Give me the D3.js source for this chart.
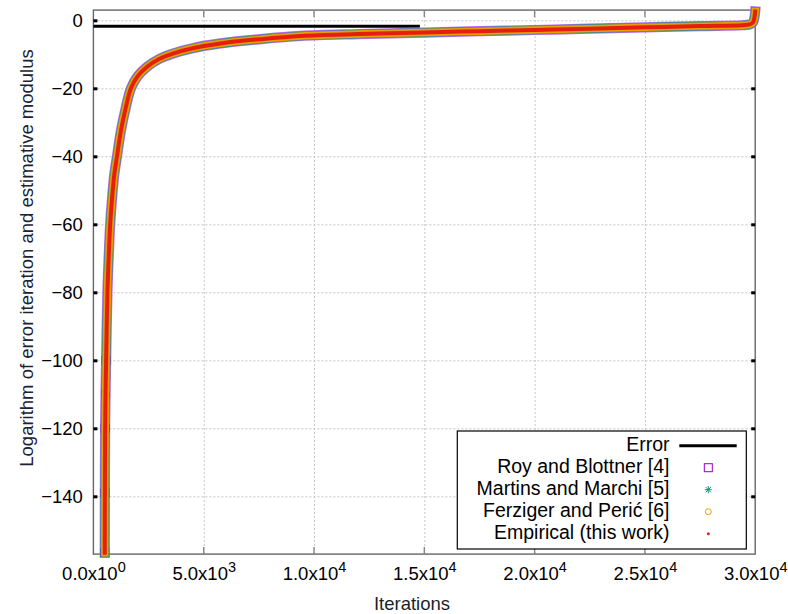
<!DOCTYPE html>
<html>
<head>
<meta charset="utf-8">
<script src="https://cdn.jsdelivr.net/npm/d3@7"></script>
<style>
  body { margin: 0; background: #fff; }
  svg { font-family: 'Liberation Sans', Arial, sans-serif; }
</style>
</head>
<body>
<div id="chart"></div>
<script>
// values
const iterations = [515, 520, 532, 550, 577, 636, 700, 760, 850, 950, 1070, 1250, 1450, 1700, 2000,
  2450, 3000, 3640, 4500, 5760, 7500, 9400, 12000, 15000, 17500, 20000, 22500, 25000, 27500,
  29400, 29750, 29900, 29970, 30000];
// the four estimators lie on top of each other at this scale
const estimateLog = [-156.6, -139, -120, -110, -100, -80, -68.5, -60, -52, -45.2, -40, -32.4, -26.2, -20, -16.5,
  -13.6, -11.3, -9.7, -8.2, -6.8, -5.6, -4.6, -4.05, -3.6, -3.2, -2.85, -2.45, -2.06, -1.7,
  -1.45, -1.2, -0.6, 1.0, 2.6];
const errorIterations = [0, 14800];
const errorLog = [-1.78, -1.78];

const xTicks = [0, 5000, 10000, 15000, 20000, 25000, 30000];
const yTicks = [0, -20, -40, -60, -80, -100, -120, -140];

const series = [
  {name: 'Roy and Blottner [4]', values: estimateLog, color: '#9400d3', band: '#b468e6', width: 10.2, marker: 'square'},
  {name: 'Martins and Marchi [5]', values: estimateLog, color: '#009e73', band: '#2b8f86', width: 8.6, marker: 'star'},
  {name: 'Ferziger and Perić [6]', values: estimateLog, color: '#e69f00', band: '#e69f00', width: 7.4, marker: 'circle'},
  {name: 'Empirical (this work)', values: estimateLog, color: '#e51e10', band: '#e51e10', width: 4.0, marker: 'dot'}
];

const W = 788, H = 614;
const plot = {left: 93.4, right: 755.2, top: 10.1, bottom: 554.1};

const svg = d3.select('#chart').append('svg')
  .attr('width', W)
  .attr('height', H);

const x = d3.scaleLinear().domain([0, 30000]).range([plot.left, plot.right]);
const y = d3.scaleLinear().domain([-157, 3]).range([plot.bottom, plot.top]);

// grid
svg.append('g')
  .attr('transform', `translate(0, ${plot.bottom})`)
  .call(d3.axisBottom(x).tickValues(xTicks.slice(1, -1)).tickSize(-(plot.bottom - plot.top)).tickFormat(''))
  .call(g => g.select('.domain').remove())
  .call(g => g.selectAll('line').attr('stroke', '#c4c4c4').attr('stroke-dasharray', '2,2'));
svg.append('g')
  .attr('transform', `translate(${plot.left}, 0)`)
  .call(d3.axisLeft(y).tickValues(yTicks).tickSize(-(plot.right - plot.left)).tickFormat(''))
  .call(g => g.select('.domain').remove())
  .call(g => g.selectAll('line').attr('stroke', '#c4c4c4').attr('stroke-dasharray', '2,2'));

// border
svg.append('rect')
  .attr('x', plot.left).attr('y', plot.top)
  .attr('width', plot.right - plot.left).attr('height', plot.bottom - plot.top)
  .attr('fill', 'none').attr('stroke', '#666').attr('stroke-width', 1.4);

// x ticks (inside, top and bottom)
xTicks.slice(1, -1).forEach(t => {
  svg.append('line').attr('x1', x(t)).attr('x2', x(t)).attr('y1', plot.bottom).attr('y2', plot.bottom - 7)
    .attr('stroke', '#888').attr('stroke-width', 1.4);
  svg.append('line').attr('x1', x(t)).attr('x2', x(t)).attr('y1', plot.top).attr('y2', plot.top + 7)
    .attr('stroke', '#888').attr('stroke-width', 1.4);
});
// y ticks: small black marks, mirrored on the right
yTicks.forEach(t => {
  svg.append('rect').attr('x', plot.left).attr('y', y(t) - 1).attr('width', 4).attr('height', 3).attr('fill', '#000');
  svg.append('rect').attr('x', plot.right - 4).attr('y', y(t) - 1).attr('width', 4).attr('height', 3).attr('fill', '#000');
});

// y tick labels
svg.append('g')
  .attr('transform', `translate(${plot.left}, 0)`)
  .call(d3.axisLeft(y).tickValues(yTicks).tickSize(0).tickPadding(10.5))
  .call(g => g.select('.domain').remove())
  .call(g => g.selectAll('text').attr('font-size', 18.5).attr('fill', '#000')
    .attr('font-family', "'Liberation Sans', Arial, sans-serif"));

// x tick labels, m.m x 10^e
const xl = svg.append('g')
  .attr('transform', `translate(0, ${plot.bottom})`)
  .call(d3.axisBottom(x).tickValues(xTicks).tickSize(0).tickFormat(''))
  .call(g => g.select('.domain').remove());
xl.selectAll('.tick text').each(function(d) {
  const e = d === 0 ? 0 : Math.floor(Math.log10(d));
  const m = (d / Math.pow(10, e)).toFixed(1);
  const t = d3.select(this)
    .attr('y', 26).attr('dy', null)
    .attr('font-size', 18.5).attr('fill', '#000')
    .attr('font-family', "'Liberation Sans', Arial, sans-serif");
  t.append('tspan').text(`${m}x10`);
  t.append('tspan').attr('dy', -8).attr('font-size', 14.5).text(e);
});

// axis titles
svg.append('text')
  .attr('x', 412).attr('y', 610)
  .attr('text-anchor', 'middle').attr('font-size', 18.5).attr('fill', '#1a1f2b')
  .text('Iterations');
svg.append('text')
  .attr('transform', `translate(33, 258) rotate(-90)`)
  .attr('text-anchor', 'middle').attr('font-size', 18.5).attr('fill', '#1a2233')
  .text('Logarithm of error iteration and estimative modulus');

// error line
const errLine = d3.line().x(d => x(d[0])).y(d => y(d[1]));
svg.append('path')
  .attr('d', errLine(d3.zip(errorIterations, errorLog)))
  .attr('fill', 'none').attr('stroke', '#000').attr('stroke-width', 3);

// estimators: dense markers rendered as a thick band plus a marker at each read point
const band = d3.line().x(d => x(d[0])).y(d => y(d[1])).curve(d3.curveCatmullRom.alpha(0.5));

function drawMarker(g, kind, cx, cy, color) {
  if (kind === 'square') {
    g.append('rect').attr('x', cx - 4).attr('y', cy - 4).attr('width', 8).attr('height', 8)
      .attr('fill', 'none').attr('stroke', color).attr('stroke-width', 1);
  } else if (kind === 'star') {
    g.append('path').attr('transform', `translate(${cx},${cy})`)
      .attr('d', 'M-3.5,0H3.5M0,-3.5V3.5M-2.6,-2.6L2.6,2.6M-2.6,2.6L2.6,-2.6')
      .attr('stroke', color).attr('stroke-width', 1);
  } else if (kind === 'circle') {
    g.append('circle').attr('cx', cx).attr('cy', cy).attr('r', 3)
      .attr('fill', 'none').attr('stroke', color).attr('stroke-width', 1);
  } else {
    g.append('circle').attr('cx', cx).attr('cy', cy).attr('r', 1.5).attr('fill', color);
  }
}

series.forEach(s => {
  const pts = d3.zip(iterations, s.values);
  const g = svg.append('g');
  g.append('path')
    .attr('d', band(pts))
    .attr('fill', 'none').attr('stroke', s.band).attr('stroke-width', s.width)
    .attr('stroke-linejoin', 'round').attr('stroke-linecap', 'square');
  // individual markers only stand out on the steep lower part
  pts.filter(p => p[1] < -95).forEach(p => drawMarker(g, s.marker, x(p[0]), y(p[1]), s.color));
});

// legend
const lg = svg.append('g');
lg.append('rect')
  .attr('x', 457.3).attr('y', 431).attr('width', 289).attr('height', 118)
  .attr('fill', '#fff').attr('stroke', '#000').attr('stroke-width', 1.2);
const legendRows = ['Error'].concat(series.map(s => s.name));
legendRows.forEach((name, i) => {
  const cy = 445.7 + i * 22;
  lg.append('text')
    .attr('x', 669.5).attr('y', cy + 5.5)
    .attr('text-anchor', 'end').attr('font-size', 19.5).attr('fill', '#000')
    .text(name);
  if (i === 0) {
    lg.append('line').attr('x1', 679.3).attr('x2', 736.7).attr('y1', cy).attr('y2', cy)
      .attr('stroke', '#000').attr('stroke-width', 3);
  } else {
    const s = series[i - 1];
    drawMarker(lg, s.marker, 708.3, cy, s.color);
  }
});
</script>
</body>
</html>
